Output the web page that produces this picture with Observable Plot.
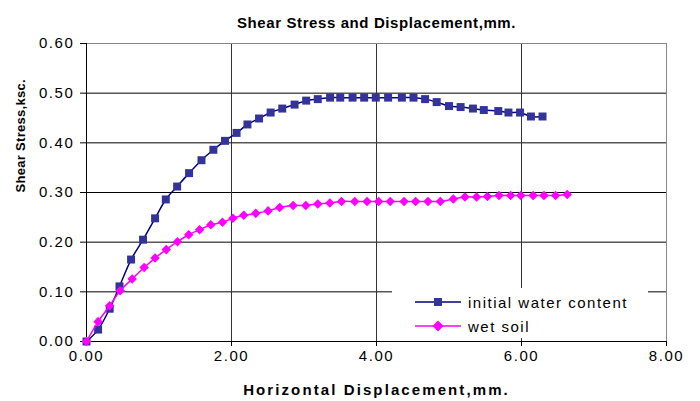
<!DOCTYPE html>
<html><head><meta charset="utf-8">
<script src="https://cdn.jsdelivr.net/npm/d3@7"></script>
<script src="https://cdn.jsdelivr.net/npm/@observablehq/plot@0.6"></script>
<style>
body{margin:0;background:#fff;}
#wrap{position:relative;width:700px;height:401px;font-family:"Liberation Sans",Arial,sans-serif;}
#legend{position:absolute;left:392px;top:288px;width:256px;height:50px;background:#fff;font-size:15px;letter-spacing:1.5px;color:#000;}
.row{position:absolute;left:22px;height:20px;display:flex;align-items:center;white-space:nowrap;}
.row svg{margin-right:6px;}
</style></head>
<body><div id="wrap"></div>
<script>
const chartTitle = "Shear Stress and Displacement,mm.";
const xTitle = "Horizontal Displacement,mm.";
const yTitle = "Shear Stress,ksc.";
const seriesNames = ["initial water content", "wet soil"];
const xTicks = [0, 2, 4, 6, 8];
const yTicks = [0, 0.1, 0.2, 0.3, 0.4, 0.5, 0.6];

const xInitial = [0, 0.16, 0.32, 0.455, 0.615, 0.78, 0.946, 1.094, 1.25, 1.415, 1.586, 1.75, 1.91, 2.07, 2.22, 2.38, 2.54, 2.70, 2.87, 3.03, 3.19, 3.36, 3.50, 3.67, 3.83, 3.99, 4.16, 4.35, 4.51, 4.67, 4.83, 5.00, 5.16, 5.33, 5.48, 5.68, 5.82, 5.98, 6.13, 6.29];
const yInitial = [0, 0.024, 0.066, 0.111, 0.165, 0.205, 0.248, 0.286, 0.312, 0.339, 0.365, 0.386, 0.404, 0.420, 0.437, 0.449, 0.461, 0.469, 0.477, 0.485, 0.488, 0.491, 0.491, 0.491, 0.491, 0.491, 0.491, 0.491, 0.491, 0.488, 0.482, 0.474, 0.472, 0.469, 0.466, 0.464, 0.461, 0.461, 0.453, 0.453];

const xWet = [0, 0.16, 0.32, 0.464, 0.63, 0.795, 0.946, 1.10, 1.255, 1.41, 1.56, 1.715, 1.875, 2.02, 2.17, 2.335, 2.505, 2.665, 2.85, 3.025, 3.19, 3.356, 3.517, 3.70, 3.87, 4.03, 4.19, 4.38, 4.54, 4.71, 4.88, 5.06, 5.22, 5.38, 5.53, 5.69, 5.85, 5.99, 6.16, 6.31, 6.47, 6.63];
const yWet = [0, 0.040, 0.072, 0.102, 0.126, 0.149, 0.168, 0.185, 0.201, 0.215, 0.225, 0.235, 0.240, 0.248, 0.254, 0.258, 0.263, 0.270, 0.274, 0.274, 0.277, 0.279, 0.282, 0.282, 0.282, 0.282, 0.282, 0.282, 0.282, 0.282, 0.282, 0.287, 0.291, 0.291, 0.292, 0.294, 0.294, 0.294, 0.294, 0.294, 0.294, 0.296];

const initial = xInitial.map((x, i) => ({x, y: yInitial[i]}));
const wet = xWet.map((x, i) => ({x, y: yWet[i]}));

const blueLine = "#000080", blueMark = "#333399", pink = "#FF00FF";

const plot = Plot.plot({
  width: 700, height: 401,
  marginLeft: 86, marginRight: 34, marginTop: 43, marginBottom: 60,
  style: {fontFamily: '"Liberation Sans", Arial, sans-serif', background: "#fff", color: "#000"},
  x: {domain: [0, 8], axis: null},
  y: {domain: [0, 0.6], axis: null},
  marks: [
    Plot.gridY(yTicks.slice(1, -1), {stroke: "#000", strokeOpacity: 1}),
    Plot.gridX(xTicks.slice(1, -1), {stroke: "#333", strokeOpacity: 1}),
    Plot.frame({stroke: "#888"}),
    Plot.ruleX([0], {stroke: "#000"}),
    Plot.ruleY([0], {stroke: "#000"}),
    Plot.axisY(yTicks, {tickFormat: d3.format(".2f"), tickSize: 6, tickPadding: 6, fontSize: 15, stroke: "#000", label: null}),
    Plot.axisX(xTicks, {tickFormat: d3.format(".2f"), tickSize: 5, tickPadding: 4, fontSize: 15, stroke: "#000", label: null}),
    Plot.line(initial, {x: "x", y: "y", stroke: blueLine, strokeWidth: 1.5, curve: "catmull-rom"}),
    Plot.dot(initial, {x: "x", y: "y", symbol: "square", fill: blueMark, r: 4.5}),
    Plot.line(wet, {x: "x", y: "y", stroke: pink, strokeWidth: 1.5, curve: "catmull-rom"}),
    Plot.dot(wet, {x: "x", y: "y", symbol: "diamond2", fill: pink, r: 4.3}),
    Plot.text([chartTitle], {frameAnchor: "top", dy: -26, fontSize: 15, fontWeight: "bold", fill: "#000"}),
    Plot.text([xTitle], {frameAnchor: "bottom", dy: 53, fontSize: 15, fontWeight: "bold", fill: "#000"}),
    Plot.text([yTitle], {frameAnchor: "left", dx: -66, rotate: -90, fontSize: 13, fontWeight: "bold", fill: "#000"})
  ]
});

const sel = d3.select(plot);
sel.selectAll('[aria-label="y-axis tick label"] text, [aria-label="x-axis tick label"] text').style("letter-spacing", "1.6px");
sel.selectAll('[aria-label="text"] text').each(function() {
  const t = this.textContent;
  if (t === chartTitle) d3.select(this).style("letter-spacing", "0.6px");
  if (t === xTitle) d3.select(this).style("letter-spacing", "2.1px");
  if (t === yTitle) d3.select(this).style("letter-spacing", "0.3px");
});

const wrap = document.getElementById("wrap");
wrap.appendChild(plot);

const legend = document.createElement("div");
legend.id = "legend";
const rows = [
  {name: seriesNames[0], color: blueLine, mark: blueMark, shape: "square", top: 4},
  {name: seriesNames[1], color: pink, mark: pink, shape: "diamond", top: 28}
];
rows.forEach(r => {
  const row = document.createElement("div");
  row.className = "row";
  row.style.top = r.top + "px";
  const markSvg = r.shape === "square"
    ? `<rect x="20" y="6" width="8" height="8" fill="${r.mark}"/>`
    : `<path d="M24,4.5L29.5,10L24,15.5L18.5,10Z" fill="${r.mark}"/>`;
  row.innerHTML = `<svg width="48" height="20"><line x1="1" x2="47" y1="10" y2="10" stroke="${r.color}" stroke-width="1.5"/>${markSvg}</svg><span>${r.name}</span>`;
  legend.appendChild(row);
});
wrap.appendChild(legend);
</script>
</body></html>
